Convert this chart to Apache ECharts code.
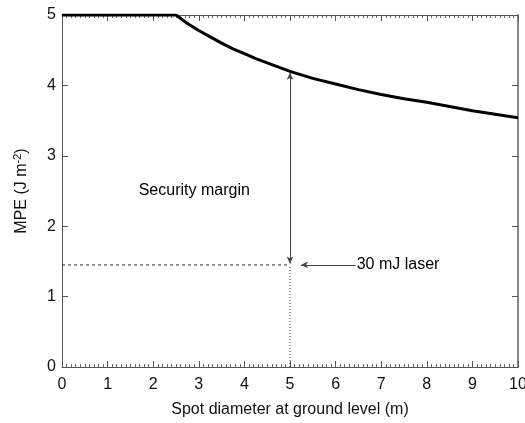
<!DOCTYPE html>
<html><head><meta charset="utf-8">
<script src="https://cdn.jsdelivr.net/npm/echarts@6/dist/echarts.min.js"></script>
<style>html,body{margin:0;padding:0;background:#fff}#c{width:525px;height:423px}</style>
</head><body><div id="c"></div>
<script>
// Data
const diameter = [0, 0.5, 1, 1.5, 2, 2.5, 2.75, 3, 3.25, 3.5, 3.75, 4, 4.25, 4.5, 4.75, 5, 5.5, 6, 6.5, 7, 7.5, 8, 8.5, 9, 9.5, 10];
const mpe      = [5, 5, 5, 5, 5, 5, 4.88, 4.78, 4.69, 4.6, 4.52, 4.45, 4.38, 4.32, 4.26, 4.2, 4.1, 4.02, 3.94, 3.87, 3.81, 3.76, 3.7, 3.64, 3.59, 3.54];
const laserX = 5;
const laserMPE = 1.45;
const curveAtLaser = 4.2;
const xTicks = [0,1,2,3,4,5,6,7,8,9,10];
const yTicks = [0,1,2,3,4,5];
const labels = [
  {name: 'Security margin', x: 1.66, y: 2.51},
  {name: '30 mJ laser', x: 6.44, y: 1.45}
];

const font = 'Liberation Sans, Arial, sans-serif';
const chart = echarts.init(document.getElementById('c'), null, {renderer: 'canvas'});
const axisLine = {show: true, onZero: false, lineStyle: {color: '#555', width: 1}};
const tick = {show: true, inside: true, length: 6, lineStyle: {color: '#555'}};
const minor = {show: true, splitNumber: 10, length: 3, lineStyle: {color: '#666'}};
chart.setOption({
  animation: false,
  grid: {left: 62, right: 7, top: 15, bottom: 56, containLabel: false, outerBoundsMode: 'none'},
  xAxis: [{
    type: 'value', min: xTicks[0], max: xTicks[xTicks.length-1], interval: 1,
    name: 'Spot diameter at ground level (m)', nameLocation: 'middle', nameGap: 35,
    nameTextStyle: {fontFamily: font, fontSize: 16, color: '#111'},
    axisLine: axisLine, axisTick: tick, minorTick: minor,
    axisLabel: {fontFamily: font, fontSize: 16, color: '#111', margin: 10},
    splitLine: {show: false}
  }, {
    type: 'value', position: 'top', min: 0, max: 10, interval: 1,
    axisLine: axisLine, axisTick: tick, minorTick: minor,
    axisLabel: {show: false}, splitLine: {show: false}
  }],
  yAxis: [{
    type: 'value', min: yTicks[0], max: yTicks[yTicks.length-1], interval: 1,
    name: 'MPE (J m{sup|-2})', nameLocation: 'middle', nameGap: 31, nameRotate: 90,
    nameTextStyle: {fontFamily: font, fontSize: 16, color: '#111',
      rich: {sup: {fontFamily: font, fontSize: 11, color: '#111', verticalAlign: 'top', padding: [0,0,8,0]}}},
    axisLine: axisLine, axisTick: tick,
    axisLabel: {fontFamily: font, fontSize: 16, color: '#111', margin: 6},
    splitLine: {show: false}
  }, {
    type: 'value', position: 'right', min: 0, max: 5, interval: 1,
    axisLine: {show: true, onZero: false, lineStyle: {color: '#888', width: 2}},
    axisTick: tick,
    axisLabel: {show: false}, splitLine: {show: false}
  }],
  series: [
    {
      type: 'line', data: diameter.map((d, i) => [d, mpe[i]]),
      showSymbol: false, smooth: false,
      lineStyle: {color: '#000', width: 3}, z: 5
    },
    {
      type: 'line', data: [[0, laserMPE], [laserX, laserMPE]], showSymbol: false,
      lineStyle: {color: '#333', width: 1, type: [3, 3]}
    },
    {
      type: 'line', data: [[laserX, 0], [laserX, laserMPE]], showSymbol: false,
      lineStyle: {color: '#333', width: 1, type: [1, 2]},
      markLine: {
        silent: true, symbolSize: [5, 7], animation: false,
        label: {show: false},
        lineStyle: {color: '#444', width: 1, type: 'solid'},
        data: [
          [{coord: [laserX, laserMPE + 0.02], symbol: 'arrow'}, {coord: [laserX, curveAtLaser - 0.02], symbol: 'arrow'}],
          [{coord: [labels[1].x, laserMPE], symbol: 'none'}, {coord: [laserX + 0.24, laserMPE], symbol: 'arrow'}]
        ]
      }
    },
    {
      type: 'scatter', symbolSize: 0,
      data: labels.map(l => ({name: l.name, value: [l.x, l.y]})),
      label: {show: true, position: 'right', distance: 1, formatter: p => p.name,
        fontFamily: font, fontSize: 16, color: '#000', opacity: 1}
    }
  ]
});
</script></body></html>
